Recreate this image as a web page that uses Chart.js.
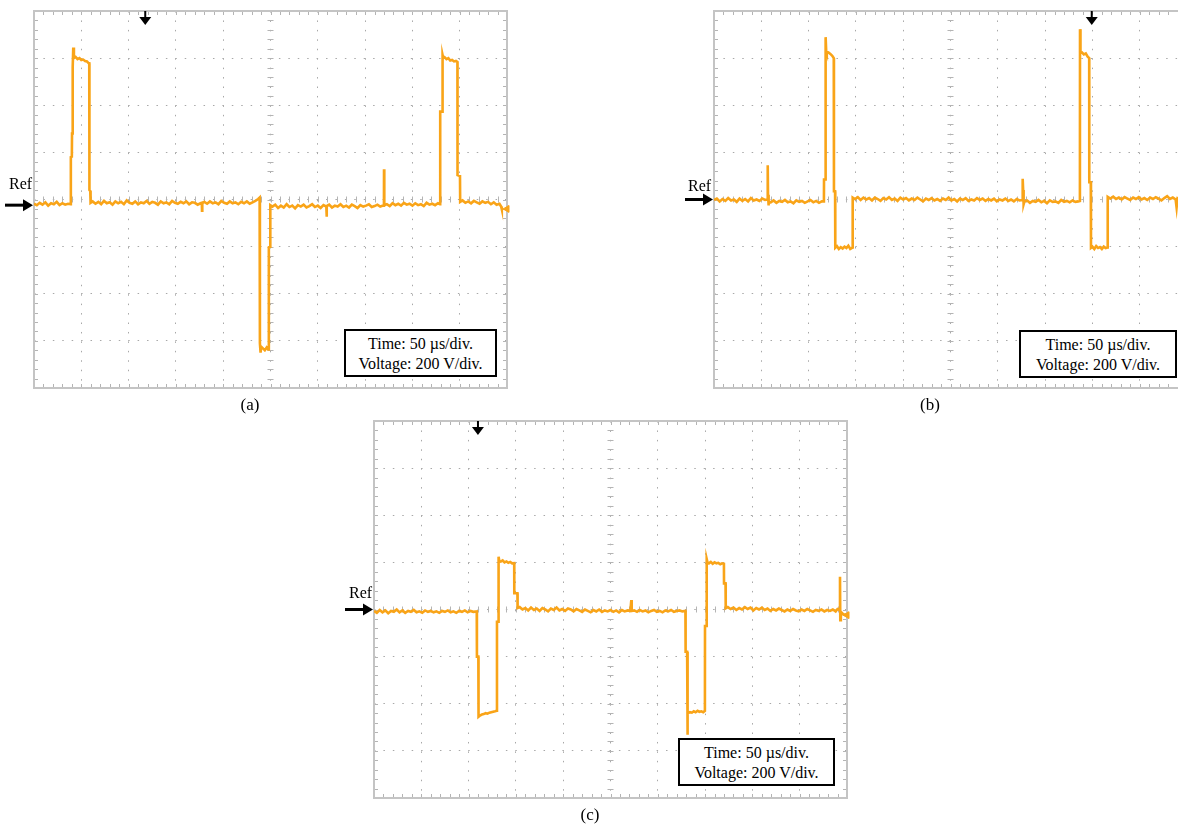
<!DOCTYPE html>
<html>
<head>
<meta charset="utf-8">
<script src="https://cdn.jsdelivr.net/npm/chart.js@4"></script>
<style>
  html, body { margin: 0; padding: 0; background: #fff; width: 1178px; height: 827px; overflow: hidden; position: relative; }
  .panel { position: absolute; width: 520px; height: 400px; }
  .txt { position: absolute; font-family: "Liberation Serif", "Times New Roman", serif; color: #000; white-space: nowrap; }
  .ref { font-size: 16px; }
  .cap { font-size: 17px; transform: translateX(-50%); }
  .box { position: absolute; border: 2px solid #000; background: #fff; font-family: "Liberation Serif", serif; font-size: 16px; line-height: 20px; text-align: center; box-sizing: border-box; padding-top: 3px; }
</style>
</head>
<body>
<div class="panel" style="left:0px; top:0px;"><canvas id="scopeA" width="520" height="400"></canvas></div>
<div class="panel" style="left:680px; top:0px;"><canvas id="scopeB" width="520" height="400"></canvas></div>
<div class="panel" style="left:340px; top:410px;"><canvas id="scopeC" width="520" height="400"></canvas></div>

<div class="txt ref" style="left:9px; top:175px;">Ref</div>
<div class="txt ref" style="left:688px; top:177px;">Ref</div>
<div class="txt ref" style="left:349px; top:584px;">Ref</div>

<div class="box" style="left:344px; top:329px; width:153px; height:48px;">Time: 50 µs/div.<br>Voltage: 200 V/div.</div>
<div class="box" style="left:1019px; top:330px; width:158px; height:48px;">Time: 50 µs/div.<br>Voltage: 200 V/div.</div>
<div class="box" style="left:678px; top:738px; width:157px; height:48px;">Time: 50 µs/div.<br>Voltage: 200 V/div.</div>

<div class="txt cap" style="left:250px; top:395px;">(a)</div>
<div class="txt cap" style="left:930px; top:395px;">(b)</div>
<div class="txt cap" style="left:590px; top:805px;">(c)</div>

<script>
// time in µs (50 µs/div), voltage in V (200 V/div)
const aTime = [0, 3, 6, 9, 12, 15, 18, 21, 24, 27, 30, 33, 36, 38.7,
  38.9, 39.0, 40.0, 40.2, 40.8, 41.0, 41.5, 42.2, 44, 46, 48, 50, 52, 54, 56, 57.8, 58.4, 58.6, 59.5, 59.8,
  62, 65, 68, 71, 74, 77, 80, 83, 86, 89, 92, 95, 98, 101, 104, 107, 110, 113, 116, 119, 122, 125, 128, 131,
  134, 137, 140, 143, 146, 149, 152, 155, 158, 161, 164, 167, 170, 173, 176, 177.4, 177.6, 177.9, 180, 183,
  186, 189, 192, 195, 198, 201, 204, 207, 210, 213, 216, 219, 222, 225, 228, 231, 234, 237, 238.5,
  238.7, 238.9, 239.5, 240.2, 242, 244, 246, 247.5, 248.2, 248.3, 249.6, 249.8,
  252, 255, 258, 261, 264, 267, 270, 273, 276, 279, 282, 285, 288, 291, 294, 297, 300, 303, 306, 309, 309.3,
  309.6, 312, 315, 318, 321, 324, 327, 330, 333, 336, 339, 342, 345, 348, 351, 354, 357, 360, 363, 366, 369,
  369.9, 370, 370.3, 373, 376, 379, 382, 385, 388, 391, 394, 397, 400, 403, 406, 409, 412, 415, 418, 421,
  424, 427, 429.1,
  429.3, 429.4, 431.7, 431.9, 432.6, 434, 436, 438, 440, 442, 444, 446, 447.6, 447.7, 450.3, 450.5,
  453, 456, 459, 462, 465, 468, 471, 474, 477, 480, 483, 486, 489, 492, 493.8, 494.5];
const aVolt = [-18, -24, -14, -22, -12, -26, -16, -20, -10, -24, -16, -22, -18, -20,
  -20, 180, 182, 280, 290, 560, 645, 600, 605, 596, 600, 592, 594, 588, 586, 578, 578, 40, 36, -14,
  -8, -18, -10, -20, -6, -16, -12, -22, -8, -16, -10, -20, -4, -14, -18, -8, -20, -12, -16, -6, -18, -10, -14, -22,
  -8, -16, -12, -20, -6, -14, -18, -10, -16, -8, -20, -12, -14, -22, -16, -14, -48, -16, -10, -18,
  -8, -16, -12, -20, -6, -14, -18, -8, -16, -12, -20, -10, -16, -8, -18, -12, -6, 2, 8,
  8, -610, -650, -625, -632, -640, -628, -636, -632, -203, -200, -24,
  -30, -22, -36, -26, -34, -20, -32, -26, -38, -24, -30, -22, -34, -28, -20, -32, -26, -36, -24, -30, -73,
  -28, -22, -34, -26, -30, -20, -32, -26, -34, -22, -28, -36, -24, -30, -26, -20, -32, -28, -22, -30, -26,
  -24, 128, -24, -20, -28, -16, -24, -18, -26, -14, -22, -18, -26, -16, -24, -20, -28, -14, -22, -18,
  -24, -16, -20,
  -20, 373, 373, 613, 600, 604, 596, 600, 590, 592, 586, 588, 584, 104, 100, -10,
  -4, -14, -8, -16, -6, -12, -18, -8, -14, -10, -20, -12, -22, -18, -30, -42];

const bTime = [0, 3, 6, 9, 12, 15, 18, 21, 24, 27, 30, 33, 36, 39, 42, 45, 48, 51, 54, 56.6, 56.8, 57.1, 57.5, 58, 60,
  63, 66, 69, 72, 75, 78, 81, 84, 87, 90, 93, 96, 99, 102, 105, 108, 111, 114, 116.2,
  116.3, 117.8, 118.0, 118.6, 119.2, 121, 123, 125, 126.6, 126.8, 128.0, 128.2, 130, 132, 134, 136, 138, 140,
  142, 144, 146.4, 146.6,
  149, 152, 155, 158, 161, 164, 167, 170, 173, 176, 179, 182, 185, 188, 191, 194, 197, 200, 203, 206, 209,
  212, 215, 218, 221, 224, 227, 230, 233, 236, 239, 242, 245, 248, 251, 254, 257, 260, 263, 266, 269, 272,
  275, 278, 281, 284, 287, 290, 293, 296, 299, 302, 305, 308, 311, 314, 317, 320, 323, 326.1, 326.3, 326.8,
  327.3, 328,
  331, 334, 337, 340, 343, 346, 349, 352, 355, 358, 361, 364, 367, 370, 373, 376, 379, 382, 385, 386.8,
  386.9, 387.4, 389, 391, 393, 395, 396.6, 396.7, 398.3, 398.5, 400, 402, 404, 406, 408, 410, 412, 414,
  416.1, 416.2,
  419, 422, 425, 428, 431, 434, 437, 440, 443, 446, 449, 452, 455, 458, 461, 464, 467, 470, 473, 476, 479,
  482, 485, 488, 489, 490, 494, 497, 500];
const bVolt = [-2, 4, -8, 2, -6, 6, -4, 0, -10, 4, -6, 2, -8, 6, -4, 0, -6, 4, -2, 0, 145, 20, -25, -10, -12,
  -4, -14, -6, -10, -2, -12, -8, -16, -4, -10, -6, -14, -8, -2, -12, -6, -14, -8, -8,
  85, 85, 689, 630, 622, 624, 618, 610, 600, 35, 35, -205, -198, -210, -202, -208, -200, -206,
  -196, -210, -204, 8,
  2, 10, -2, 8, 0, 6, -4, 8, 2, -6, 6, 0, 10, -2, 4, -6, 8, 0, 6, -4, 4,
  -2, 8, 0, -8, 4, -2, 6, -4, 2, -6, 4, -2, 8, -4, 2, -8, 4, -2, 6, -6, 0,
  -4, 6, -2, 4, -6, 2, -4, 4, -8, 0, -4, 4, -6, 0, -8, 2, -4, -2, 88, 40,
  -20, -10,
  -4, -14, -6, -10, -2, -12, -6, -16, -4, -10, -8, -14, -2, -10, -6, -12, -4, -10, -8, -6,
  723, 622, 624, 616, 620, 606, 600, 73, 73, -205, -200, -210, -198, -206, -202, -210, -200, -206,
  -204, 11,
  4, 12, 2, 8, 0, 10, 4, -2, 8, 2, 10, 0, 6, -2, 8, 2, 10, 4, -4, 6, 14,
  2, 8, 0, -34, 6, 2, 8, 4];

const cTime = [0, 3, 6, 9, 12, 15, 18, 21, 24, 27, 30, 33, 36, 39, 42, 45, 48, 51, 54, 57, 60, 63, 66, 69, 72,
  75, 78, 81, 84, 87, 90, 93, 96, 99, 102, 105, 108.6,
  108.8, 110.3, 110.5, 112, 114, 116, 118, 120, 122, 124, 126, 128, 129.8, 130, 131.5, 131.7, 132.5, 134,
  136, 138, 140, 142, 144, 146, 148.2, 148.3, 151.6, 151.8,
  154, 157, 160, 163, 166, 169, 172, 175, 178, 181, 184, 187, 190, 193, 196, 199, 202, 205, 208, 211, 214,
  217, 220, 223, 226, 229, 232, 235, 238, 241, 244, 247, 250, 253, 256, 259, 262, 265, 268, 271, 272,
  272.4, 275, 278, 281, 284, 287, 290, 293, 296, 299, 302, 305, 308, 311, 314, 317, 320, 323, 326, 329.2,
  329.4, 331.0, 331.2, 331.8, 334, 336, 338, 340, 342, 344, 346, 348, 349.8, 349.9, 351.5, 351.7, 352.5,
  354, 356, 358, 360, 362, 364, 366, 368, 369.9, 370, 371.6, 371.8,
  374, 377, 380, 383, 386, 389, 392, 395, 398, 401, 404, 407, 410, 413, 416, 419, 422, 425, 428, 431, 434,
  437, 440, 443, 446, 449, 452, 455, 458, 461, 464, 467, 470, 473, 476, 479, 482, 485, 488, 490, 492.4,
  492.6, 492.9, 493.5, 496, 499];
const cVolt = [-6, -14, -2, -12, -4, -16, -6, -10, 0, -12, -4, -14, -6, -10, -2, -12, -8, -14, -4, -10, -6, -12, -8, -14, -6,
  -10, -4, -12, -8, -14, -6, -10, -4, -12, -6, -10, -8,
  -200, -200, -455, -450, -446, -444, -440, -442, -438, -436, -434, -432, -430, -52, -52, 224, 205, 203,
  208, 200, 204, 198, 202, 196, 197, 69, 69, 6,
  10, 0, 6, -4, 8, -2, 4, -6, 6, 0, -8, 4, -2, 8, -4, 2, -6, 4, 0, -8, 2,
  -4, -10, 0, -6, -12, -2, -8, 0, -10, -4, -8, -2, -10, -4, -12, -2, -8, -4, -6, 40,
  -6, -4, -10, -2, -8, -4, -12, -6, -2, -10, -6, -12, -4, -8, -2, -10, -6, -4, -8, -6,
  -179, -179, -532, -440, -436, -438, -432, -436, -430, -434, -432, -436, -430, -70, -70, 214, 200,
  196, 202, 194, 200, 196, 198, 192, 196, 194, 111, 111, 5,
  10, 2, 8, -2, 6, 0, 10, 2, 8, -4, 6, 0, 8, -2, 4, -6, 2, -4, 4, -2, -8,
  0, -6, 2, -4, -8, 0, -6, 2, -4, -10, -2, -6, 0, -8, -2, -6, 0, -8, 2, -2,
  139, -45, -10, -20, -22];

// per panel: reference arrow level, trigger position, end-of-trace marker
const refLevels = [-24, 0, 0];
const triggerTimes = [117.6, 399.3, 109.9];
const endMarkers = [{ x: 500, y: -40 }, null, { x: 500, y: -24 }];

const traceColor = "rgb(249, 164, 24)";

const scopeFrame = {
  id: "scopeFrame",
  beforeDatasetsDraw(chart) {
    const { ctx, chartArea: a, scales: { x, y } } = chart;
    const cx = x.getPixelForValue((x.min + x.max) / 2);
    const cy = y.getPixelForValue(0);
    ctx.save();
    ctx.strokeStyle = "#b4b4b4";
    ctx.lineWidth = 1;
    ctx.beginPath();
    for (let t = x.min; t <= x.max; t += 10) {
      const px = Math.round(x.getPixelForValue(t)) + 0.5;
      ctx.moveTo(px, a.top); ctx.lineTo(px, a.top + 4);
      ctx.moveTo(px, a.bottom - 4); ctx.lineTo(px, a.bottom);
      ctx.moveTo(px, cy - 3); ctx.lineTo(px, cy + 3);
    }
    for (let v = y.min; v <= y.max; v += 40) {
      const py = Math.round(y.getPixelForValue(v)) + 0.5;
      ctx.moveTo(a.left, py); ctx.lineTo(a.left + 4, py);
      ctx.moveTo(a.right - 4, py); ctx.lineTo(a.right, py);
      ctx.moveTo(cx - 3, py); ctx.lineTo(cx + 3, py);
    }
    ctx.stroke();
    ctx.strokeStyle = "#c4c4c4";
    ctx.lineWidth = 2;
    ctx.strokeRect(a.left, a.top, a.right - a.left, a.bottom - a.top);
    ctx.restore();
  },
  afterDraw(chart, args, opts) {
    const { ctx, chartArea: a, scales: { x, y } } = chart;
    ctx.save();
    ctx.fillStyle = "#000";
    ctx.strokeStyle = "#000";
    // Ref arrow
    const ry = y.getPixelForValue(opts.ref);
    ctx.lineWidth = 3;
    ctx.beginPath();
    ctx.moveTo(a.left - 29, ry); ctx.lineTo(a.left - 9, ry);
    ctx.stroke();
    ctx.beginPath();
    ctx.moveTo(a.left - 11, ry - 6); ctx.lineTo(a.left - 1, ry); ctx.lineTo(a.left - 11, ry + 6);
    ctx.closePath(); ctx.fill();
    // trigger marker
    const tx = x.getPixelForValue(opts.trigger);
    ctx.lineWidth = 2;
    ctx.beginPath();
    ctx.moveTo(tx, a.top); ctx.lineTo(tx, a.top + 8);
    ctx.stroke();
    ctx.beginPath();
    ctx.moveTo(tx - 6, a.top + 6); ctx.lineTo(tx + 6, a.top + 6); ctx.lineTo(tx, a.top + 14);
    ctx.closePath(); ctx.fill();
    ctx.restore();
  }
};

function makeScope(id, times, volts, ref, trigger, marker) {
  const trace = times.map((t, i) => ({ x: t, y: volts[i] }));
  const datasets = [{
    data: trace,
    showLine: true,
    borderColor: traceColor,
    borderWidth: 2.6,
    pointRadius: 0,
    tension: 0
  }];
  if (marker) {
    datasets.push({
      data: [marker],
      pointStyle: "triangle",
      rotation: -90,
      pointRadius: 4,
      backgroundColor: traceColor,
      borderColor: traceColor,
      clip: false
    });
  }
  new Chart(document.getElementById(id), {
    type: "scatter",
    data: { datasets },
    options: {
      responsive: false,
      animation: false,
      events: [],
      layout: { padding: { left: 34, top: 11, right: 13, bottom: 12 } },
      scales: {
        x: {
          type: "linear", min: 0, max: 500,
          ticks: { display: false, stepSize: 50 },
          grid: { color: "#a8a8a8", lineWidth: 1, drawTicks: false },
          border: { display: false, dash: [1.5, 7.94] }
        },
        y: {
          type: "linear", min: -800, max: 800,
          ticks: { display: false, stepSize: 200 },
          grid: { color: "#a8a8a8", lineWidth: 1, drawTicks: false },
          border: { display: false, dash: [1.5, 7.92] }
        }
      },
      plugins: {
        legend: { display: false },
        tooltip: { enabled: false },
        scopeFrame: { ref, trigger }
      }
    },
    plugins: [scopeFrame]
  });
}

makeScope("scopeA", aTime, aVolt, refLevels[0], triggerTimes[0], endMarkers[0]);
makeScope("scopeB", bTime, bVolt, refLevels[1], triggerTimes[1], endMarkers[1]);
makeScope("scopeC", cTime, cVolt, refLevels[2], triggerTimes[2], endMarkers[2]);
</script>
</body>
</html>
